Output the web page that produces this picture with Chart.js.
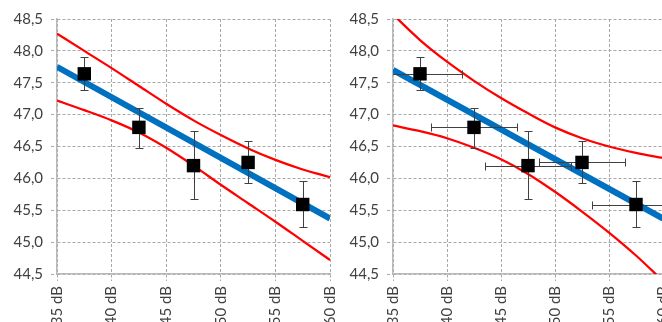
<!DOCTYPE html>
<html><head><meta charset="utf-8">
<script src="https://cdn.jsdelivr.net/npm/chart.js@4.4.0/dist/chart.umd.min.js"></script>
<style>
html,body{margin:0;padding:0;background:#fff;overflow:hidden;width:662px;height:322px;position:relative;}
canvas{position:absolute;top:0;}
#c1{left:0;} #c2{left:338px;}
</style></head><body>
<canvas id="c1" width="340" height="340"></canvas>
<canvas id="c2" width="340" height="340"></canvas>
<script>
const categories = [37.5, 42.5, 47.5, 52.5, 57.5];
const values = [47.64, 46.80, 46.20, 46.25, 45.59];
const errHigh = [47.91, 47.11, 46.74, 46.59, 45.96];
const errLow = [47.38, 46.47, 45.68, 45.92, 45.23];
const xErrRight = [3.92, 3.98, 4.01, 3.96, 4.05];
const bandX = [35, 37.5, 40, 42.5, 45, 47.5, 50, 52.5, 55, 57.5, 60];
const fitX = [35, 60];
const fitLeft = [47.75, 45.37];
const upperLeft = [48.27, 48.00, 47.73, 47.45, 47.17, 46.91, 46.68, 46.47, 46.29, 46.14, 46.02];
const lowerLeft = [47.22, 47.07, 46.91, 46.72, 46.48, 46.20, 45.90, 45.61, 45.32, 45.02, 44.72];
const fitRight = [47.70, 45.37];
const upperRight = [48.57, 48.17, 47.83, 47.53, 47.26, 47.02, 46.80, 46.63, 46.50, 46.40, 46.32];
const lowerRight = [46.83, 46.74, 46.63, 46.48, 46.30, 46.07, 45.79, 45.48, 45.15, 44.79, 44.39];
const xTickValues = [35, 40, 45, 50, 55, 60];
const xTickLabels = ['35 dB', '40 dB', '45 dB', '50 dB', '55 dB', '60 dB'];
const yTickValues = [44.5, 45, 45.5, 46, 46.5, 47, 47.5, 48, 48.5];
const yTickLabels = ['44,5', '45,0', '45,5', '46,0', '46,5', '47,0', '47,5', '48,0', '48,5'];

const FONT = {family: 'Lato', size: 15};
const TEXT = '#404040';
const GRID = '#a8a8a8';
const AXIS = '#b8b8b8';
const CANVAS_H = 340;
const PLOT_BOTTOM = 274;

const errorBarPlugin = {
  id: 'errbars',
  beforeDatasetDraw(chart, args, opts) {
    if (args.index !== 0) return;
    const {ctx, chartArea: a, scales: {x, y}} = chart;
    ctx.save();
    ctx.beginPath();
    ctx.rect(a.left, a.top, a.right - a.left, a.bottom - a.top);
    ctx.clip();
    ctx.strokeStyle = '#404040';
    ctx.lineWidth = 1;
    const cap = 4;
    categories.forEach((cx, i) => {
      const px = Math.round(x.getPixelForValue(cx)) + 0.5;
      const py = Math.round(y.getPixelForValue(values[i])) + 0.5;
      const yt = Math.round(y.getPixelForValue(errHigh[i])) + 0.5;
      const yb = Math.round(y.getPixelForValue(errLow[i])) + 0.5;
      ctx.beginPath();
      ctx.moveTo(px, yt); ctx.lineTo(px, yb);
      ctx.moveTo(px - cap, yt); ctx.lineTo(px + cap, yt);
      ctx.moveTo(px - cap, yb); ctx.lineTo(px + cap, yb);
      if (opts.xErr) {
        const xl = Math.round(x.getPixelForValue(cx - opts.xErr[i])) + 0.5;
        const xr = Math.round(x.getPixelForValue(cx + opts.xErr[i])) + 0.5;
        ctx.moveTo(xl, py); ctx.lineTo(xr, py);
        ctx.moveTo(xl, py - cap); ctx.lineTo(xl, py + cap);
        ctx.moveTo(xr, py - cap); ctx.lineTo(xr, py + cap);
      }
      ctx.stroke();
    });
    ctx.restore();
  }
};

function pts(xs, ys) { return xs.map((v, i) => ({x: v, y: ys[i]})); }

function makeChart(id, yWidth, padRight, fit, upper, lower, xErr) {
  return new Chart(document.getElementById(id), {
    type: 'scatter',
    data: {
      datasets: [
        {data: pts(categories, values), pointStyle: 'rect', pointRadius: 9.5, pointHoverRadius: 9.5,
         backgroundColor: '#000', borderColor: '#000', borderWidth: 0, showLine: false},
        {data: pts(fitX, fit), showLine: true, borderColor: '#0070c0', borderWidth: 6, pointRadius: 0},
        {data: pts(bandX, upper), showLine: true, borderColor: '#ff0000', borderWidth: 2.25, pointRadius: 0, cubicInterpolationMode: 'monotone'},
        {data: pts(bandX, lower), showLine: true, borderColor: '#ff0000', borderWidth: 2.25, pointRadius: 0, cubicInterpolationMode: 'monotone'}
      ]
    },
    options: {
      responsive: false, animation: false, devicePixelRatio: 1,
      layout: {padding: {left: 0, right: padRight, top: 19, bottom: 0}},
      plugins: {legend: {display: false}, tooltip: {enabled: false}, errbars: {xErr: xErr}},
      scales: {
        x: {
          type: 'linear', min: 35, max: 60,
          afterBuildTicks: s => { s.ticks = xTickValues.map(v => ({value: v})); },
          afterFit: s => { s.height = CANVAS_H - PLOT_BOTTOM; s.paddingLeft = 0; s.paddingRight = 0; },
          ticks: {autoSkip: false, minRotation: 90, maxRotation: 90, padding: 5, color: TEXT, font: FONT,
                  callback: v => xTickLabels[xTickValues.indexOf(v)]},
          grid: {color: GRID, lineWidth: 1, tickLength: 7, tickColor: GRID, tickBorderDash: [3, 2]},
          border: {display: true, color: AXIS, width: 1.5, dash: [3, 2]}
        },
        y: {
          min: 44.5, max: 48.5,
          afterBuildTicks: s => { s.ticks = yTickValues.map(v => ({value: v})); },
          afterFit: s => { s.width = yWidth; s.paddingTop = 0; s.paddingBottom = 0; },
          ticks: {padding: 8, color: TEXT, font: FONT,
                  callback: v => yTickLabels[yTickValues.indexOf(v)]},
          grid: {color: GRID, lineWidth: 1, tickLength: 6, tickColor: GRID, tickBorderDash: [3, 2]},
          border: {display: true, color: AXIS, width: 1.5, dash: [3, 2]}
        }
      }
    },
    plugins: [errorBarPlugin]
  });
}

makeChart('c1', 57, 10, fitLeft, upperLeft, lowerLeft, null);
makeChart('c2', 55, 15, fitRight, upperRight, lowerRight, xErrRight);
</script>
</body></html>
